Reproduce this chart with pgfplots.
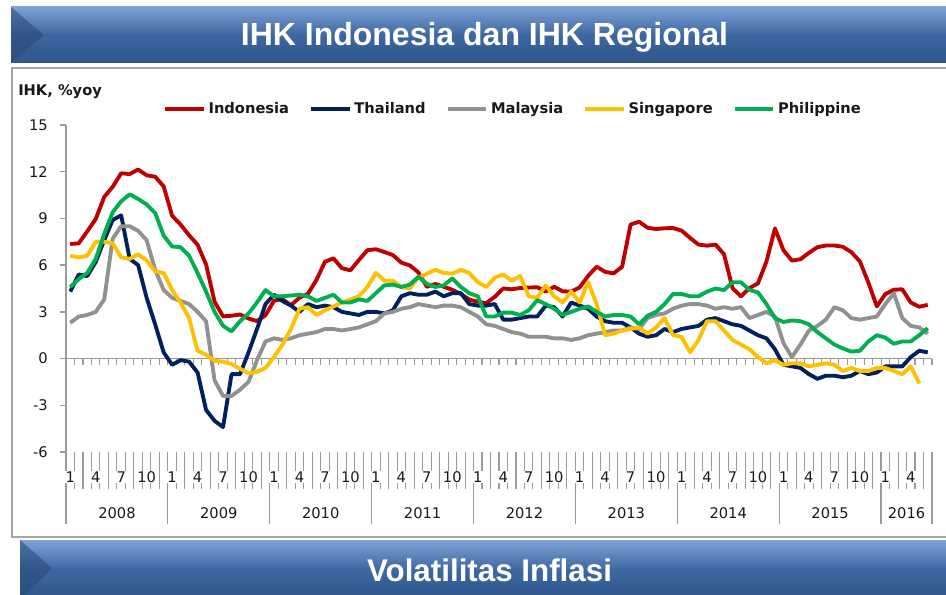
\documentclass[border=0pt]{standalone}
\usepackage{pgfplots}
\pgfplotsset{compat=1.18}
\usepackage{pgfplotstable}
\usepackage{fontspec}
\setmainfont{DejaVu Sans}
\newfontfamily\titlefont{Liberation Sans}
\definecolor{cInd}{RGB}{192,0,0}
\definecolor{cTha}{RGB}{0,32,96}
\definecolor{cMal}{RGB}{145,145,145}
\definecolor{cSgp}{RGB}{255,192,0}
\definecolor{cPhl}{RGB}{0,176,80}
\definecolor{axgray}{RGB}{155,155,155}
\definecolor{framegray}{RGB}{165,165,165}
\definecolor{bantop}{RGB}{125,162,214}
\definecolor{banmid}{RGB}{62,102,160}
\definecolor{banbot}{RGB}{46,86,140}
\definecolor{bandark}{RGB}{40,72,120}
\definecolor{txt}{RGB}{25,25,25}

\pgfplotstableread{
t ind tha mal sgp phl
0 7.36 4.3 2.3 6.6 4.6
1 7.40 5.4 2.7 6.5 5.1
2 8.17 5.3 2.8 6.6 5.5
3 8.96 6.2 3.0 7.5 6.4
4 10.38 7.6 3.8 7.5 8.0
5 11.03 8.9 7.7 7.4 9.4
6 11.90 9.2 8.5 6.5 10.1
7 11.85 6.4 8.5 6.4 10.55
8 12.14 6.0 8.2 6.7 10.25
9 11.77 3.9 7.6 6.3 9.9
10 11.68 2.2 5.7 5.6 9.35
11 11.06 0.4 4.4 5.5 7.9
12 9.17 -0.4 3.9 4.4 7.2
13 8.60 -0.1 3.7 3.6 7.15
14 7.92 -0.2 3.5 2.6 6.6
15 7.31 -0.9 3.0 0.5 5.5
16 6.04 -3.3 2.4 0.25 4.3
17 3.65 -4.0 -1.4 -0.15 3.0
18 2.71 -4.4 -2.4 -0.2 2.1
19 2.75 -1.0 -2.4 -0.35 1.75
20 2.83 -1.0 -2.0 -0.65 2.4
21 2.57 0.4 -1.5 -0.95 2.9
22 2.41 1.9 -0.1 -0.85 3.6
23 2.78 3.5 1.1 -0.6 4.4
24 3.72 4.1 1.3 0.1 4.0
25 3.81 3.7 1.2 0.9 4.0
26 3.43 3.4 1.3 1.9 4.05
27 3.91 3.0 1.5 3.2 4.1
28 4.16 3.5 1.6 3.3 4.0
29 5.05 3.3 1.7 2.8 3.7
30 6.22 3.4 1.9 3.1 3.9
31 6.44 3.3 1.9 3.35 4.1
32 5.80 3.0 1.8 3.6 3.6
33 5.67 2.9 1.9 3.8 3.6
34 6.33 2.8 2.0 4.0 3.8
35 6.96 3.0 2.2 4.6 3.7
36 7.02 3.0 2.4 5.5 4.2
37 6.84 2.9 2.9 5.0 4.7
38 6.65 3.1 3.0 5.0 4.75
39 6.16 4.0 3.2 4.6 4.6
40 5.98 4.2 3.3 4.5 4.75
41 5.54 4.1 3.5 5.2 5.25
42 4.61 4.1 3.4 5.45 4.8
43 4.79 4.3 3.3 5.7 4.6
44 4.61 4.0 3.4 5.5 4.7
45 4.42 4.2 3.4 5.45 5.15
46 4.15 4.2 3.3 5.7 4.6
47 3.79 3.5 3.0 5.5 4.2
48 3.65 3.4 2.7 4.9 4.0
49 3.56 3.4 2.2 4.6 2.7
50 3.97 3.5 2.1 5.2 2.7
51 4.50 2.5 1.9 5.4 2.95
52 4.45 2.5 1.7 5.0 2.95
53 4.53 2.6 1.6 5.3 2.8
54 4.56 2.7 1.4 4.0 3.1
55 4.58 2.7 1.4 3.9 3.75
56 4.31 3.4 1.4 4.7 3.5
57 4.61 3.3 1.3 4.0 3.2
58 4.32 2.7 1.3 3.6 2.8
59 4.30 3.6 1.2 4.3 3.0
60 4.57 3.4 1.3 3.6 3.2
61 5.31 3.2 1.5 4.9 3.35
62 5.90 2.7 1.6 3.5 3.0
63 5.57 2.4 1.7 1.5 2.7
64 5.47 2.3 1.8 1.6 2.8
65 5.90 2.3 1.8 1.8 2.8
66 8.61 2.0 2.0 1.9 2.7
67 8.79 1.6 1.9 2.0 2.2
68 8.40 1.4 2.6 1.6 2.75
69 8.32 1.5 2.8 2.0 3.0
70 8.37 1.9 2.9 2.6 3.5
71 8.38 1.7 3.2 1.5 4.15
72 8.22 1.9 3.4 1.4 4.15
73 7.75 2.0 3.5 0.4 4.0
74 7.32 2.1 3.5 1.2 4.0
75 7.25 2.5 3.4 2.4 4.3
76 7.32 2.6 3.2 2.4 4.5
77 6.70 2.4 3.3 1.8 4.4
78 4.53 2.2 3.2 1.2 4.9
79 3.99 2.1 3.3 0.9 4.9
80 4.53 1.8 2.6 0.6 4.4
81 4.83 1.5 2.8 0.1 4.25
82 6.23 1.3 3.0 -0.3 3.5
83 8.36 0.6 2.7 -0.1 2.6
84 6.96 -0.4 1.0 -0.4 2.35
85 6.29 -0.5 0.1 -0.3 2.45
86 6.38 -0.6 0.9 -0.3 2.4
87 6.79 -1.0 1.8 -0.5 2.2
88 7.15 -1.3 2.1 -0.4 1.7
89 7.26 -1.1 2.5 -0.3 1.3
90 7.26 -1.1 3.3 -0.4 0.9
91 7.18 -1.2 3.1 -0.8 0.65
92 6.83 -1.1 2.6 -0.6 0.45
93 6.25 -0.8 2.5 -0.8 0.5
94 4.89 -1.0 2.6 -0.8 1.1
95 3.35 -0.9 2.7 -0.6 1.5
96 4.14 -0.5 3.5 -0.6 1.35
97 4.42 -0.5 4.2 -0.8 0.95
98 4.45 -0.5 2.6 -1.0 1.1
99 3.60 0.1 2.1 -0.5 1.1
100 3.33 0.5 2.0 -1.6 1.5
101 3.45 0.4 1.6 nan 1.95
}\cpi

\begin{document}
\begin{tikzpicture}
% ---------- background (pixel units, y downwards) ----------
\begin{scope}[x=0.75pt,y=-0.75pt]
\path[use as bounding box] (0,0) rectangle (946,595);
\fill[white] (0,0) rectangle (946,595);
% chart frame
\draw[framegray, line width=1.5pt] (12,68) rectangle (975,537);
% top banner
\shade[top color=bantop, bottom color=banbot, middle color=banmid] (11,7) rectangle (960,63);
\fill[bandark, opacity=0.55] (11,7) -- (44,35) -- (11,63) -- cycle;
\node[text=white, font=\titlefont\bfseries\fontsize{24}{28}\selectfont] at (484.5,37) {IHK Indonesia dan IHK Regional};
% bottom banner
\shade[top color=bantop, bottom color=banbot, middle color=banmid] (20,540) rectangle (960,600);
\fill[bandark, opacity=0.55] (20,540) -- (52,568) -- (20,600) -- cycle;
\node[text=white, font=\titlefont\bfseries\fontsize{23.5}{28}\selectfont] at (489.5,570) {Volatilitas Inflasi};
% unit label
\node[anchor=west, text=txt, inner sep=0pt, font=\bfseries\fontsize{11}{13}\selectfont] at (18,92) {IHK, \%yoy};
\end{scope}

\begin{axis}[
  at={(49.5pt,-339pt)}, anchor=south west,
  scale only axis, width=649.5pt, height=245.25pt,
  xmin=0, xmax=102, ymin=-6, ymax=15,
  clip=false,
  axis x line=none,
  axis y line*=left,
  y axis line style={axgray, line width=1pt},
  ytick={-6,-3,0,3,6,9,12,15},
  ytick style={axgray, line width=1pt},
  tick align=outside,
  major tick length=4.5pt,
  yticklabel style={text=txt, font=\fontsize{11}{13}\selectfont, inner sep=0pt, xshift=-9pt},
  /pgf/number format/assume math mode=true,
  legend style={at={(0.112,1.048)}, anchor=west, draw=none, fill=none,
     legend columns=5, inner sep=0pt, text=txt,
     font=\bfseries\fontsize{11}{13}\selectfont,
     /tikz/every even column/.append style={column sep=13pt}},
  legend image code/.code={\draw[#1, line width=3pt] (0pt,0pt) -- (29pt,0pt);},
]
% zero line with monthly minor ticks
\draw[axgray, line width=1.2pt] (axis cs:0,0) -- (axis cs:102,0);
\pgfplotsinvokeforeach{0,...,102}{
  \draw[axgray, line width=0.8pt] (axis cs:#1,0) -- ([yshift=-4.5pt]axis cs:#1,0);
  \draw[axgray, line width=0.8pt] (axis cs:#1,-6) -- ([yshift=-27.75pt]axis cs:#1,-6);
}
\pgfplotsinvokeforeach{0,12,24,36,48,60,72,84,96,102}{
  \draw[axgray, line width=0.9pt] (axis cs:#1,-6) -- ([yshift=-54pt]axis cs:#1,-6);
}
% month labels
\pgfplotsinvokeforeach{0,12,24,36,48,60,72,84}{
  \node[text=txt, font=\fontsize{11}{13}\selectfont, fill=white, inner sep=0.5pt] at ([yshift=-18.75pt]axis cs:#1+0.5,-6) {1};
  \node[text=txt, font=\fontsize{11}{13}\selectfont, fill=white, inner sep=0.5pt] at ([yshift=-18.75pt]axis cs:#1+3.5,-6) {4};
  \node[text=txt, font=\fontsize{11}{13}\selectfont, fill=white, inner sep=0.5pt] at ([yshift=-18.75pt]axis cs:#1+6.5,-6) {7};
  \node[text=txt, font=\fontsize{11}{13}\selectfont, fill=white, inner sep=0.5pt] at ([yshift=-18.75pt]axis cs:#1+9.5,-6) {10};
}
\node[text=txt, font=\fontsize{11}{13}\selectfont, fill=white, inner sep=0.5pt] at ([yshift=-18.75pt]axis cs:96.5,-6) {1};
\node[text=txt, font=\fontsize{11}{13}\selectfont, fill=white, inner sep=0.5pt] at ([yshift=-18.75pt]axis cs:99.5,-6) {4};
% year labels
\pgfplotsinvokeforeach{2008,...,2015}{
  \node[text=txt, font=\fontsize{11}{13}\selectfont] at ([yshift=-45.75pt]axis cs:{(#1-2008)*12+6},-6) {#1};
}
\node[text=txt, font=\fontsize{11}{13}\selectfont] at ([yshift=-45.75pt]axis cs:99,-6) {2016};

\addplot[cInd, line width=2.9pt, line join=round] table[x expr=\thisrow{t}+0.5, y=ind] {\cpi};
\addlegendentry{Indonesia}
\addplot[cTha, line width=2.9pt, line join=round] table[x expr=\thisrow{t}+0.5, y=tha] {\cpi};
\addlegendentry{Thailand}
\addplot[cMal, line width=2.9pt, line join=round] table[x expr=\thisrow{t}+0.5, y=mal] {\cpi};
\addlegendentry{Malaysia}
\addplot[cSgp, line width=2.9pt, line join=round] table[x expr=\thisrow{t}+0.5, y=sgp] {\cpi};
\addlegendentry{Singapore}
\addplot[cPhl, line width=2.9pt, line join=round] table[x expr=\thisrow{t}+0.5, y=phl] {\cpi};
\addlegendentry{Philippine}
\end{axis}
\end{tikzpicture}
\end{document}
